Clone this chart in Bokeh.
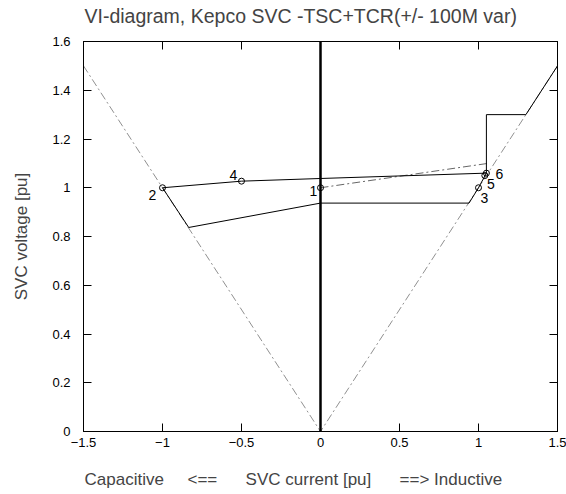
from bokeh.plotting import figure
from bokeh.models import (Range1d, FixedTicker, LinearAxis, CustomJSTickFormatter, Title,
                          ColumnDataSource, CustomLabelingPolicy)
from bokeh.embed import file_html
from bokeh.resources import INLINE
from bokeh.core.properties import value

FONT = "Liberation Sans"

# ---- data ----
x_ticks = [-1.5, -1, -0.5, 0, 0.5, 1, 1.5]
y_ticks = [0, 0.2, 0.4, 0.6, 0.8, 1.0, 1.2, 1.4, 1.6]

# reactance limit lines (V = |I|)
limit_i = [-1.5, 0.0, 1.5]
limit_v = [1.5, 0.0, 1.5]

# slope reference line from operating point 1
slope_i = [0.0, 1.06]
slope_v = [1.0, 1.10]

# upper trajectory 2 -> 4 -> 6
upper_i = [-1.0, -0.5, 0.0, 1.05]
upper_v = [1.0, 1.027, 1.038, 1.06]

# lower trajectory 2 -> ... -> 3 -> 6 -> limits
lower_i = [-1.0, -0.834, 0.0, 0.94, 1.0, 1.05, 1.05, 1.30, 1.5]
lower_v = [1.0, 0.837, 0.937, 0.937, 1.0, 1.06, 1.30, 1.30, 1.5]

# zero-current axis line
zero_i = [0.0, 0.0]
zero_v = [0.0, 1.6]

# numbered operating points
pt_names = ["1", "2", "3", "4", "5", "6"]
pt_i = [0.0, -1.0, 1.0, -0.5, 1.04, 1.05]
pt_v = [1.0, 1.0, 1.0, 1.027, 1.05, 1.06]

title_text = "VI-diagram, Kepco SVC -TSC+TCR(+/- 100M var)"
NB = "\u00a0"
xlabel_text = ("Capacitive" + NB * 5 + "<==" + NB * 6 + "SVC current [pu]" + NB * 6
               + "==>" + NB + "Inductive")
ylabel_text = "SVC voltage [pu]"

# ---- figure ----
p = figure(output_backend="svg", toolbar_location=None,
           frame_width=474, frame_height=390,
           min_border_left=83, min_border_top=40, min_border_right=9, min_border_bottom=63,
           x_range=Range1d(-1.5, 1.5), y_range=Range1d(0, 1.6),
           x_axis_location=None, y_axis_location=None)
p.background_fill_color = "white"
p.border_fill_color = "white"
p.outline_line_color = "black"
p.outline_line_width = 1
p.xgrid.visible = False
p.ygrid.visible = False

fmt_x = CustomJSTickFormatter(code="return tick.toString().replace('-', '\u2212');")
fmt_y = CustomJSTickFormatter(code="return tick.toString();")
no_labels = CustomLabelingPolicy(code="for (const i of Array.from(indices)) indices.unset(i); return indices")

def style_axis(ax):
    ax.major_tick_in = 8
    ax.major_tick_out = 0
    ax.minor_tick_line_color = None
    ax.axis_line_color = "black"
    ax.major_tick_line_color = "black"
    ax.major_label_text_font = FONT
    ax.major_label_text_color = "black"
    ax.major_label_text_font_size = "13px"

xb = LinearAxis(ticker=FixedTicker(ticks=x_ticks), formatter=fmt_x)
style_axis(xb)
xb.major_label_standoff = 6
p.add_layout(xb, "below")

yl = LinearAxis(ticker=FixedTicker(ticks=y_ticks), formatter=fmt_y)
style_axis(yl)
yl.major_label_standoff = 13
yl.axis_label = ylabel_text
yl.axis_label_text_font = FONT
yl.axis_label_text_font_size = "17px"
yl.axis_label_text_font_style = "normal"
yl.axis_label_standoff = 18
p.add_layout(yl, "left")

xt = LinearAxis(ticker=FixedTicker(ticks=x_ticks), formatter=fmt_x,
                major_label_policy=no_labels)
style_axis(xt)
xt.major_label_standoff = 0
p.add_layout(xt, "above")

yr = LinearAxis(ticker=FixedTicker(ticks=y_ticks), formatter=fmt_y,
                major_label_policy=no_labels)
style_axis(yr)
yr.major_label_standoff = 0
p.add_layout(yr, "right")

p.title.text = title_text
p.title.text_font = FONT
p.title.text_font_size = "19.5px"
p.title.text_font_style = "normal"
p.title.align = "left"
p.title.offset = 1
p.title.standoff = 5

xlab = Title(text=xlabel_text, text_font=FONT, text_font_size="17px",
             text_font_style="normal", align="left", offset=1, standoff=36)
p.add_layout(xlab, "below")

# ---- glyphs ----
p.line(limit_i, limit_v, line_color="#909090", line_width=1, line_dash="8 3 2 3")
p.line(slope_i, slope_v, line_color="#666666", line_width=1, line_dash="8 3 2 3")
p.line(upper_i, upper_v, line_color="black", line_width=1)
p.line(lower_i, lower_v, line_color="black", line_width=1)
p.line(zero_i, zero_v, line_color="black", line_width=2.5)

src = ColumnDataSource(dict(i=pt_i, v=pt_v, name=pt_names,
                            dx=[-7, -10, 6, -8, 6, 13],
                            dy=[3, 7, 10, -6, 8, 1]))
p.scatter("i", "v", source=src, marker="circle", size=6, line_color="black",
          fill_color=None, line_width=1)
p.text("i", "v", text="name", source=src, x_offset="dx", y_offset="dy",
       text_font=value(FONT), text_font_size="14px", text_color="black",
       text_align="center", text_baseline="middle")

open("out.html", "w").write(file_html(p, INLINE))
